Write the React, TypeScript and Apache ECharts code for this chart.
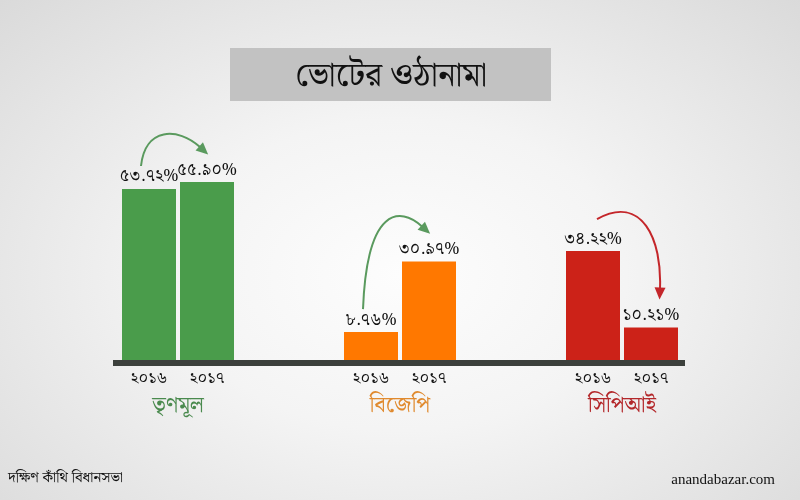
import React, { useEffect, useRef } from 'react';
import * as echarts from 'echarts';

const parties = ['তৃণমূল', 'বিজেপি', 'সিপিআই'];
const years = ['২০১৬', '২০১৭'];
const votes2016 = [53.72, 8.76, 34.22];
const votes2017 = [55.9, 30.97, 10.21];
const barColors = ['#4a9c4b', '#ff7800', '#cc2218'];
const nameColors = ['#4a8a4e', '#e08a2e', '#b3272a'];
const titleText = 'ভোটের ওঠানামা';
const sourceText = 'দক্ষিণ কাঁথি বিধানসভা';
const creditText = 'anandabazar.com';

const BN_FONT = "'Noto Serif Bengali','Lohit Bengali','FreeSerif','Noto Sans Bengali',serif";
const bnDigits = '০১২৩৪৫৬৭৮৯';
const toBn = (s: string) => s.replace(/[0-9]/g, (d) => bnDigits[+d]);

const BAR_W = 54;
const GAP = 4;

export default function App() {
  const ref = useRef<HTMLDivElement>(null);
  useEffect(() => {
    if (!ref.current) return;
    const chart = echarts.init(ref.current, null, { renderer: 'svg' });
    const rich: any = {
      y: { width: 58, align: 'center', fontSize: 16, lineHeight: 22, color: '#111', fontFamily: BN_FONT },
    };
    nameColors.forEach((c, i) => {
      rich['p' + i] = { fontSize: 22, lineHeight: 32, color: c, fontFamily: BN_FONT, align: 'center' };
    });
    const mkSeries = (name: string, vals: number[]) => ({
      type: 'bar',
      name,
      barWidth: BAR_W,
      barGap: (GAP / BAR_W) * 100 + '%',
      data: vals.map((v, i) => ({ value: v, itemStyle: { color: barColors[i] } })),
      label: {
        show: true,
        position: 'top',
        distance: 4,
        fontSize: 17,
        color: '#111',
        fontFamily: BN_FONT,
        formatter: (p: any) => toBn(Number(p.value).toFixed(2)) + '%',
      },
    });
    const option: any = {
      animation: false,
      backgroundColor: 'transparent',
      grid: { left: 67, right: 67, top: 169, bottom: 140 },
      xAxis: {
        type: 'category',
        data: parties,
        axisLine: { show: false },
        axisTick: { show: false },
        axisLabel: {
          margin: 7,
          interval: 0,
          formatter: (v: string, idx: number) =>
            years.map((y) => `{y|${y}}`).join('') + `\n{p${idx}|${v}}`,
          rich,
        },
      },
      yAxis: { type: 'value', min: 0, max: 60, show: false, splitLine: { show: false } },
      series: [mkSeries(years[0], votes2016), mkSeries(years[1], votes2017)],
    };
    chart.setOption(option);

    const off = (BAR_W + GAP) / 2;
    const baseY = chart.convertToPixel({ yAxisIndex: 0 }, 0) as number;
    const graphics: any[] = [
      { type: 'rect', shape: { x: 230, y: 48, width: 321, height: 53 }, style: { fill: '#c2c2c2' } },
      {
        type: 'text', x: 391, y: 76,
        style: { text: titleText, fontSize: 33, fill: '#111', fontFamily: BN_FONT, align: 'center', verticalAlign: 'middle' },
      },
      {
        type: 'text', x: 8, y: 478,
        style: { text: sourceText, fontSize: 15, fill: '#111', fontFamily: BN_FONT, align: 'left', verticalAlign: 'middle' },
      },
      {
        type: 'text', x: 775, y: 479,
        style: { text: creditText, fontSize: 15, fill: '#111', fontFamily: "'Liberation Serif','DejaVu Serif',serif", align: 'right', verticalAlign: 'middle' },
      },
    ];
    const firstC = chart.convertToPixel({ xAxisIndex: 0 }, parties[0]) as number;
    const lastC = chart.convertToPixel({ xAxisIndex: 0 }, parties[parties.length - 1]) as number;
    const stripL = firstC - off - BAR_W / 2 - 9;
    const stripR = lastC + off + BAR_W / 2 + 7;
    graphics.push({
      type: 'rect', z: 10,
      shape: { x: stripL, y: baseY, width: stripR - stripL, height: 6 },
      style: { fill: '#3c403c' },
    });

    parties.forEach((p, i) => {
      const c = chart.convertToPixel({ xAxisIndex: 0 }, p) as number;
      const x1 = c - off;
      const x2 = c + off;
      const lt1 = (chart.convertToPixel({ yAxisIndex: 0 }, votes2016[i]) as number) - 22;
      const lt2 = (chart.convertToPixel({ yAxisIndex: 0 }, votes2017[i]) as number) - 22;
      const up = votes2017[i] >= votes2016[i];
      const color = up ? '#5a9a5e' : '#c4262a';
      let sx, sy, ex, ey, c1x, c1y, c2x, c2y, tx, ty;
      if (up) {
        sx = x1 - 8; sy = lt1 - 1;
        ex = x2 - 7; ey = lt2 - 13;
        c1x = sx + 4; c1y = ey - 20;
        c2x = ex - 22; c2y = ey - 20;
      } else {
        sx = x1 + 4; sy = lt1 - 10;
        ex = x2 + 9; ey = lt2 - 17;
        c1x = sx + 45; c1y = sy - 25;
        c2x = ex + 2; c2y = sy + 20;
      }
      let dx = ex - c2x, dy = ey - c2y;
      const len = Math.hypot(dx, dy) || 1;
      dx /= len; dy /= len;
      tx = ex + dx * 11; ty = ey + dy * 11;
      const px = -dy, py = dx;
      graphics.push({
        type: 'bezierCurve', z: 20,
        shape: { x1: sx, y1: sy, x2: ex, y2: ey, cpx1: c1x, cpy1: c1y, cpx2: c2x, cpy2: c2y },
        style: { stroke: color, lineWidth: 2, fill: 'none' },
      });
      graphics.push({
        type: 'polygon', z: 20,
        shape: { points: [[tx, ty], [ex - dx * 1 + px * 5.5, ey - dy * 1 + py * 5.5], [ex - dx * 1 - px * 5.5, ey - dy * 1 - py * 5.5]] },
        style: { fill: color },
      });
    });
    chart.setOption({ graphic: graphics });
    return () => chart.dispose();
  }, []);
  return (
    <div
      ref={ref}
      style={{
        position: 'fixed',
        left: 0,
        top: 0,
        width: 800,
        height: 500,
        background: 'radial-gradient(ellipse at 50% 55%, #fdfdfd 0%, #f4f4f4 40%, #dadada 100%)',
      }}
    />
  );
}
